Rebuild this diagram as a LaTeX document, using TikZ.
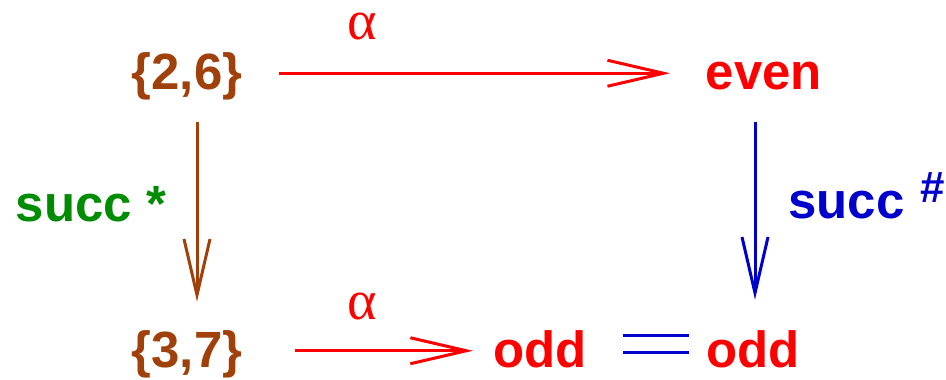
\documentclass[tikz,border=0pt]{standalone}
\usepackage{fontspec}
\setmainfont{Liberation Sans}
\newfontfamily\greekfont{Liberation Serif}
\usepackage{tikz}
\usetikzlibrary{arrows.meta, positioning, calc}
\definecolor{colorSet}{HTML}{A0400A}
\definecolor{colorAbs}{HTML}{FF0000}
\definecolor{colorSucc}{HTML}{008C00}
\definecolor{colorHash}{HTML}{0000CC}

\begin{document}
\begin{tikzpicture}[
  x=0.02cm, y=-0.02cm,
  every node/.style={font=\fontsize{29}{35}\selectfont\bfseries, inner sep=0pt,
                     text height=0.71cm, text depth=0.06cm},
  setbox/.style={text=colorSet, anchor=base},
  absbox/.style={text=colorAbs, anchor=base},
  alphalbl/.style={text=colorAbs, anchor=base, text height=0.5cm, text depth=0cm,
                   font=\fontsize{32}{38}\selectfont\greekfont},
  succlbl/.style={anchor=base west},
  arr/.style={-{Straight Barb[length=1.12cm, width=0.52cm]}, line width=0.06cm}
]
\useasboundingbox (0,0) rectangle (946,379);

% concrete sets and abstract values
\node[setbox] (s26)  at (187,89.5) {\{2,6\}};
\node[absbox] (even) at (764,89.5) {even};
\node[setbox] (s37)  at (187,367)  {\{3,7\}};
\node[absbox] (oddl) at (540,367)  {odd};
\node[absbox] (oddr) at (753,367)  {odd};

% labels
\node[alphalbl] (atop) at (362,39)  {α};
\node[alphalbl] (abot) at (362,319) {α};
\node[succlbl, text=colorSucc] (sstar) at (15.5,221) {succ *};
\node[succlbl, text=colorHash] (shash) at (788,218)
  {succ\hspace{0.33cm}\raisebox{0.31cm}{\fontsize{25}{30}\selectfont\bfseries\#}};

% arrows
\draw[arr, colorAbs, shorten <=0.73cm, shorten >=0.71cm] (s26.east) -- (s26.east -| even.west);
\draw[arr, colorAbs, shorten <=1.05cm, shorten >=0.40cm] (s37.east) -- (s37.east -| oddl.west);
\draw[arr, colorSet, shorten <=0.59cm, shorten >=0.59cm]
  ([xshift=0.2cm]s26.south) -- ([xshift=0.2cm]s37.north);
\draw[arr, colorHash, shorten <=0.59cm, shorten >=0.63cm]
  ([xshift=-0.18cm]even.south) -- ([xshift=-0.18cm]even.south |- oddr.north);
\draw[colorHash, double=white, double distance=0.28cm, line width=0.06cm,
      shorten <=0.71cm, shorten >=0.34cm]
  ([yshift=0.14cm]oddl.east) -- ([yshift=0.14cm]oddr.west);

\end{tikzpicture}
\end{document}
